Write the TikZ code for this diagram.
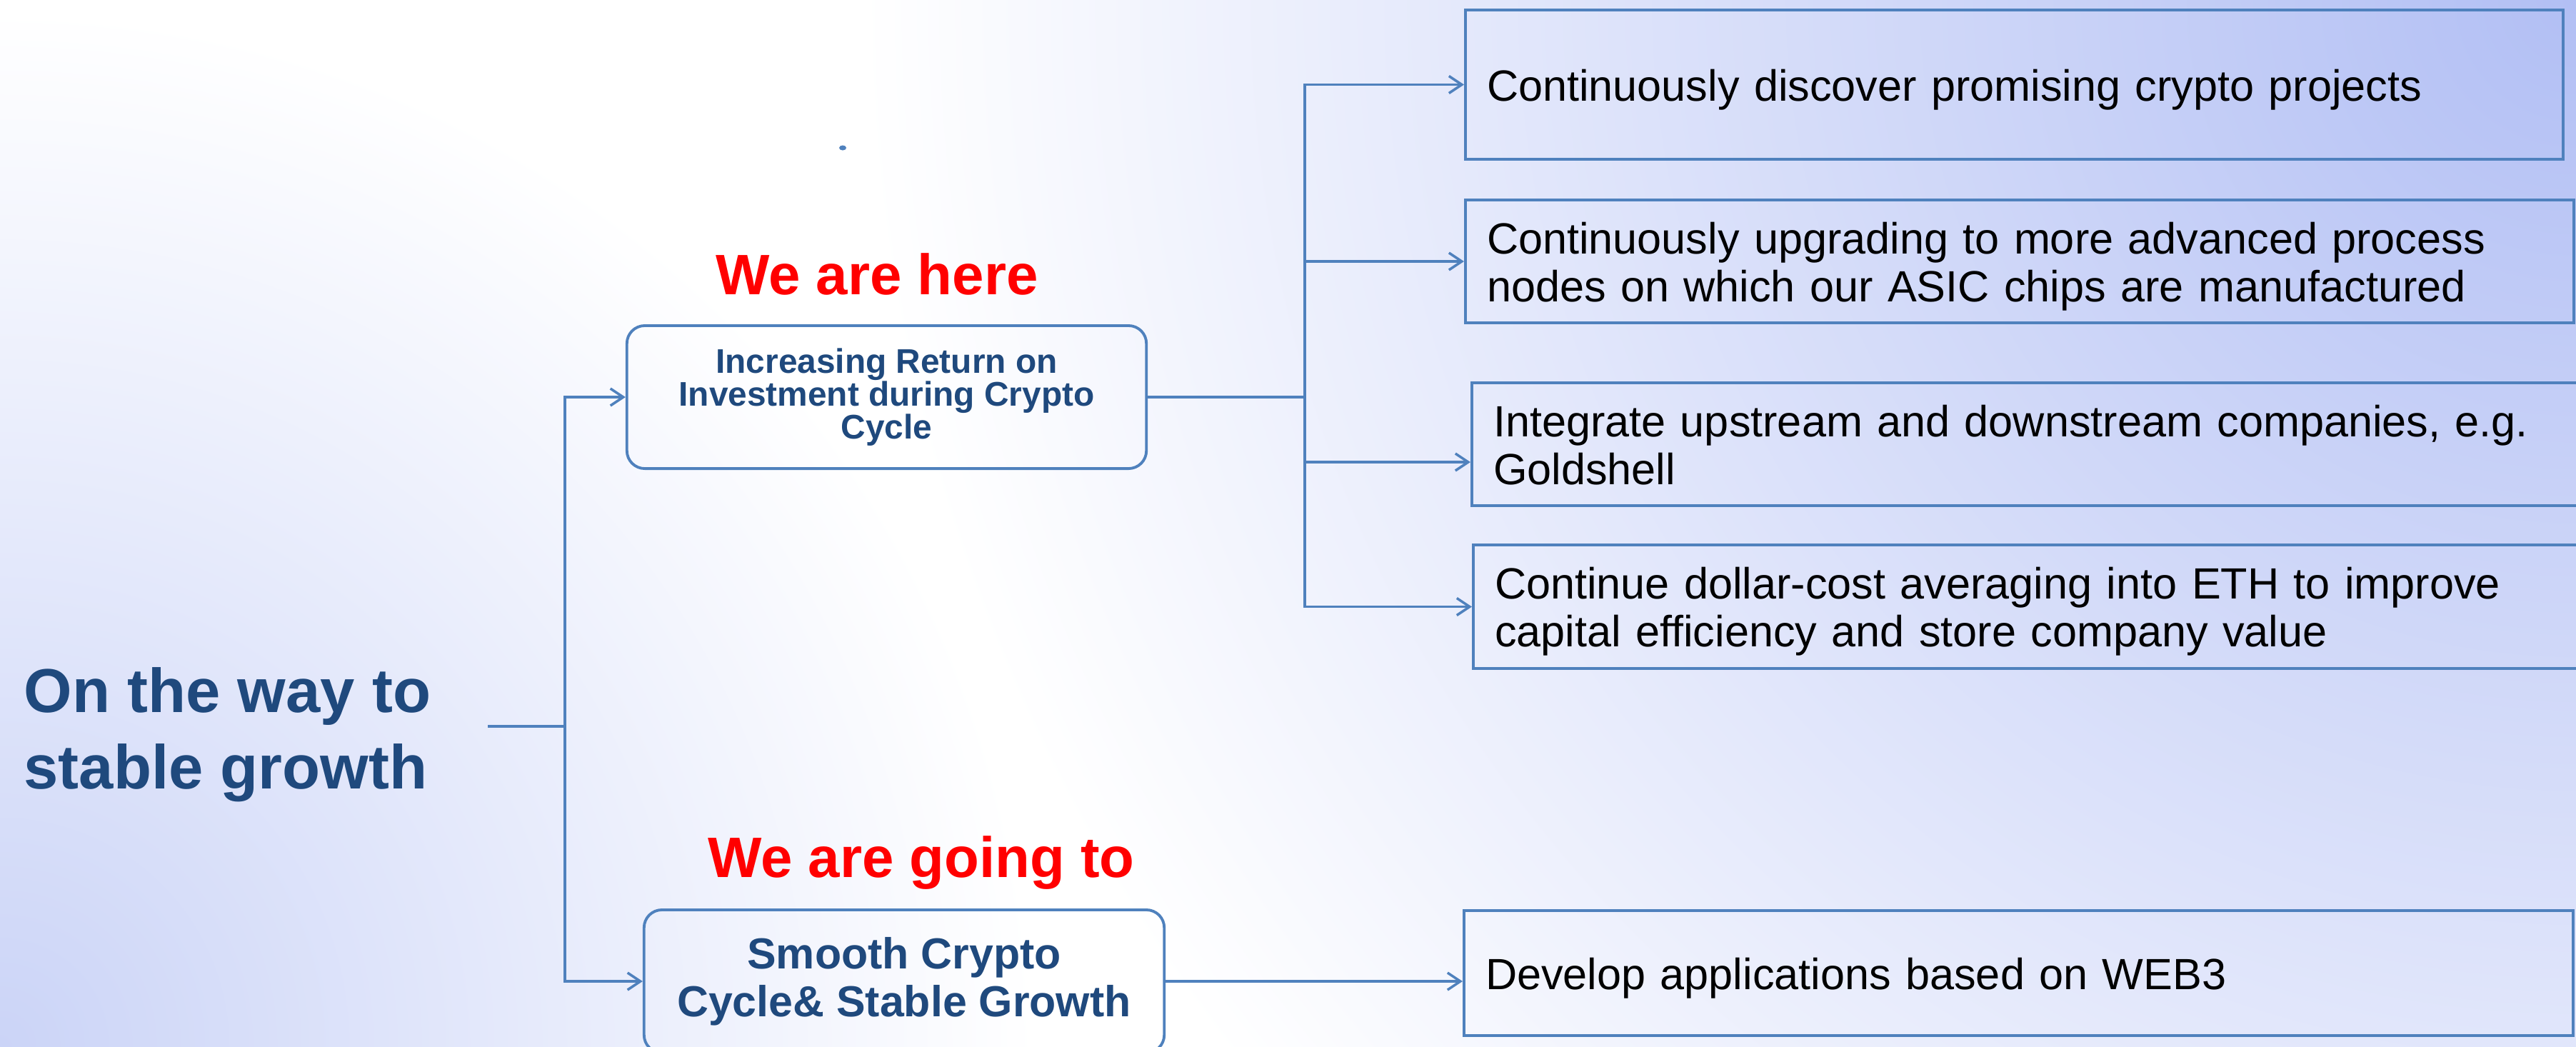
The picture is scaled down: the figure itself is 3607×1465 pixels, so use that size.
\documentclass[tikz,border=0pt]{standalone}
\usepackage{fontspec}
\setmainfont{Liberation Sans}
\usetikzlibrary{arrows.meta}
\definecolor{linkblue}{HTML}{4F81BD}
\definecolor{navytext}{HTML}{1F497D}
\definecolor{bgblueA}{HTML}{B2BFF4}
\definecolor{bgblueB}{HTML}{CBD4F7}

\begin{document}
\begin{tikzpicture}[x=0.01cm,y=-0.01cm,
  conn/.style={draw=linkblue,line width=1pt},
  arr/.style={conn,-{Straight Barb[length=0.18cm,width=0.24cm,line width=1pt]}},
  phase/.style={draw=linkblue,line width=1.1pt,rounded corners=0.25cm,align=center,
    text=navytext,inner sep=0pt},
  task/.style={draw=linkblue,line width=1.15pt,anchor=west,align=left,inner xsep=0.3cm,
    inner ysep=0pt,font=\fontsize{17.4}{19.1}\selectfont},
  oneline/.style={text height=13pt,text depth=0pt},
  twoline/.style={text height=13pt,text depth=19.1pt},
  status/.style={text=red,font=\fontsize{22.7}{26}\selectfont\bfseries,anchor=base,inner sep=0pt}
]
\useasboundingbox (0,0) rectangle (3607,1465);
\begin{scope}
\clip (0,0) rectangle (3607,1465);
% backdrop: white with bluish glows in the upper-right and lower-left corners
\fill[white] (0,0) rectangle (3607,1465);
\shade[inner color=bgblueA,outer color=white] (3607,0) circle [radius=24cm];
\shade[inner color=bgblueB,outer color=white] (0,1465) circle [radius=14.5cm];

% title
\node[anchor=west,align=left,inner sep=0pt,text=navytext,
  font=\fontsize{24.7}{30.4}\selectfont\bfseries] (goal) at (33,1029)
  {On the way to\\stable growth};

% status labels
\node[status] (here) at (1228,412) {We are here};
\node[status] (going) at (1290,1228) {We are going to};
\fill[linkblue] (1180,207) ellipse [x radius=0.05cm, y radius=0.035cm];

% phases
\node[phase,minimum width=7.27cm,minimum height=2cm,
  font=\fontsize{13.6}{13.1}\selectfont\bfseries] (pa) at (1241.5,556)
  {Increasing Return on\\Investment during Crypto\\Cycle};
\node[phase,minimum width=7.28cm,minimum height=2cm,
  font=\fontsize{17.3}{19.1}\selectfont\bfseries] (pb) at (1266,1374)
  {Smooth Crypto\\Cycle\& Stable Growth};

% tasks
\node[task,oneline,minimum height=2.09cm,text width=14.76cm] (b1) at (2050,118.5)
  {Continuously discover promising crypto projects};
\node[task,twoline,minimum height=1.72cm,text width=14.91cm] (b2) at (2050,366)
  {Continuously upgrading to more advanced process\\nodes on which our ASIC chips are manufactured};
\node[task,twoline,minimum height=1.72cm,text width=15.4cm] (b3) at (2059,622)
  {Integrate upstream and downstream companies, e.g.\\Goldshell};
\node[task,twoline,minimum height=1.73cm,text width=15.4cm] (b4) at (2061,849.5)
  {Continue dollar-cost averaging into ETH to improve\\capital efficiency and store company value};
\node[task,oneline,minimum height=1.75cm,text width=14.92cm] (b5) at (2048,1362.5)
  {Develop applications based on WEB3};

% connectors
\coordinate (goalstub) at (683,1017);
\coordinate (split) at (791,1017);
\coordinate (fork) at (1827,556);
\coordinate (f3) at (1827,647);

\draw[conn] (goalstub) -- (split);
\draw[arr] (split) |- (pa.west);
\draw[arr] (split) |- (pb.west);

\draw[conn] (pa.east) -- (fork);
\draw[arr] (fork) |- (b1.west);
\draw[arr] (fork) |- (b2.west);
\draw[arr] (fork) -- (f3) -- (f3 -| b3.west);
\draw[arr] (fork) |- (b4.west);

\draw[arr] (pb.east) -- (pb.east -| b5.west);
\end{scope}
\end{tikzpicture}
\end{document}
